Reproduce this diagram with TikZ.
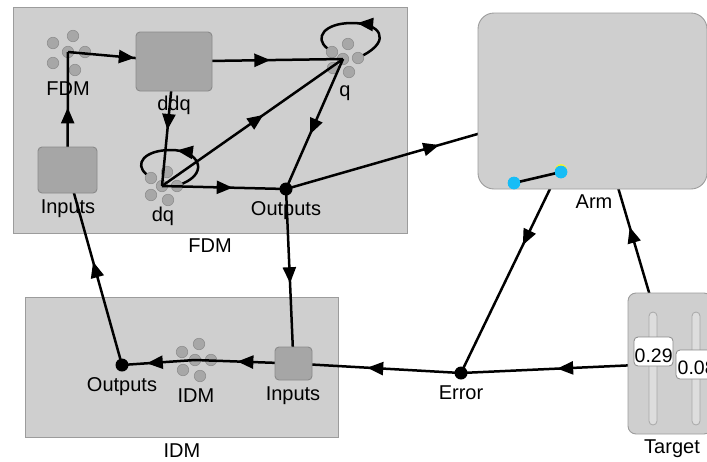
\documentclass[tikz,border=0pt]{standalone}
\usepackage{fontspec}
\setmainfont{Liberation Sans}
\usetikzlibrary{arrows.meta,decorations.markings}
\definecolor{contfill}{HTML}{CFCFCF}
\definecolor{contline}{HTML}{9C9C9C}
\definecolor{boxfill}{HTML}{A6A6A6}
\definecolor{boxline}{HTML}{8A8A8A}
\definecolor{dotfill}{HTML}{A7A7A7}
\definecolor{dotline}{HTML}{8E8E8E}
\definecolor{trackfill}{HTML}{DDDDDD}
\definecolor{trackline}{HTML}{A8A8A8}
\definecolor{armblue}{HTML}{17BDF6}
\definecolor{armyellow}{HTML}{F2F23A}
\pgfdeclarelayer{bg}
\pgfdeclarelayer{dotl}
\pgfdeclarelayer{edges}
\pgfsetlayers{bg,dotl,edges,main}
\tikzset{
  cont/.style={draw=contline,fill=contfill,line width=0.9pt,inner sep=0pt},
  grbox/.style={draw=boxline,fill=boxfill,line width=0.9pt,rounded corners=4pt,inner sep=0pt},
  gdot/.style={circle,draw=dotline,fill=dotfill,line width=0.6pt,minimum size=11.5pt,inner sep=0pt},
  bdot/.style={circle,fill=black,minimum size=13pt,inner sep=0pt},
  lbl/.style={anchor=base,inner sep=0pt,font=\fontsize{20pt}{24pt}\selectfont},
  valbox/.style={draw=boxline,fill=white,line width=0.8pt,rounded corners=4pt,inner sep=0pt,minimum height=29pt},
  valtxt/.style={anchor=base west,inner sep=0pt,font=\fontsize{19.5pt}{22pt}\selectfont},
  track/.style={draw=trackline,fill=trackfill,line width=0.8pt,rounded corners=4pt,minimum width=8pt,minimum height=113pt,inner sep=0pt},
  edge/.style={draw=black,line width=2.5pt},
  arrowat/.style={postaction={decorate,decoration={markings,
     mark=at position #1 with {\arrow{Triangle[length=16pt,width=13pt]}}}}},
}
\begin{document}
\begin{tikzpicture}[x=1pt,y=-1pt]
\useasboundingbox (0,0) rectangle (707,461);
\clip (0,0) rectangle (707,461);
% containers
\begin{pgfonlayer}{bg}
\node[cont,minimum width=394pt,minimum height=226pt] (fdmcont) at (210,120) {};
\node[cont,minimum width=313pt,minimum height=140pt] (idmcont) at (181.5,367) {};
\end{pgfonlayer}
\node[lbl] (fdmcontlbl) at (210,252) {FDM};
\node[lbl] (idmcontlbl) at (182,457) {IDM};
% FDM internals
\node[grbox,minimum width=59pt,minimum height=46pt] (inF) at (67.5,170) {};
\node[lbl] (inFlbl) at (68,213) {Inputs};
\node[grbox,minimum width=76pt,minimum height=59pt] (ddq) at (174,61.5) {};
\node[lbl] (ddqlbl) at (174,110) {ddq};
\node[bdot] (outF) at (286,189) {};
\node[lbl] (outFlbl) at (286,215) {Outputs};
\begin{pgfonlayer}{dotl}
% FDM cluster
\node[gdot] (fdmul) at (53,43) {};
\node[gdot] (fdmt) at (73,36) {};
\node[gdot] (fdmc) at (68,52) {};
\node[gdot] (fdmr) at (85,52) {};
\node[gdot] (fdmll) at (53,63) {};
\node[gdot] (fdmb) at (75,70) {};
% q cluster
\node[gdot] (qul) at (332,52) {};
\node[gdot] (qt) at (348,44) {};
\node[gdot] (qc) at (343,59) {};
\node[gdot] (qr) at (358,58) {};
\node[gdot] (qll) at (333,68) {};
\node[gdot] (qb) at (349,72) {};
% dq cluster
\node[gdot] (dqul) at (151,178) {};
\node[gdot] (dqt) at (167,172) {};
\node[gdot] (dqc) at (162,186) {};
\node[gdot] (dqr) at (177,186) {};
\node[gdot] (dqll) at (151,195) {};
\node[gdot] (dqb) at (168,200) {};
% IDM cluster
\node[gdot] (idmul) at (182,352) {};
\node[gdot] (idmt) at (199,344) {};
\node[gdot] (idmc) at (195,360) {};
\node[gdot] (idmr) at (211,360) {};
\node[gdot] (idmll) at (183,370) {};
\node[gdot] (idmb) at (200,376) {};
\end{pgfonlayer}
\node[lbl] (fdmlbl) at (68,95) {FDM};
\node[lbl] (qlbl) at (345,96) {q};
\node[lbl] (dqlbl) at (163,221) {dq};
% IDM internals
\node[bdot] (outI) at (122,365) {};
\node[lbl] (outIlbl) at (122,391) {Outputs};
\node[lbl] (idmlbl) at (196,402) {IDM};
\node[grbox,minimum width=37pt,minimum height=33pt] (inI) at (293.5,363.5) {};
\node[lbl] (inIlbl) at (293,400) {Inputs};
% Error
\node[bdot] (err) at (461,373) {};
\node[lbl] (errlbl) at (461,399) {Error};
% Arm
\node[draw=contline,fill=contfill,line width=0.9pt,rounded corners=16pt,minimum width=229pt,minimum height=176pt,inner sep=0pt] (arm) at (592.5,101) {};
\node[lbl] (armlbl) at (594,208) {Arm};
\node[circle,fill=armyellow,minimum size=12pt,inner sep=0pt] (army) at (561,170) {};
\node[circle,fill=armblue,minimum size=12.5pt,inner sep=0pt] (armb1) at (514,183) {};
\node[circle,fill=armblue,minimum size=12.5pt,inner sep=0pt] (armb2) at (561,172) {};
\draw[line width=2.6pt] (armb1.center) -- (armb2.center);
\node[circle,fill=armblue,minimum size=12.5pt,inner sep=0pt] (armb1t) at (514,183) {};
\node[circle,fill=armblue,minimum size=12.5pt,inner sep=0pt] (armb2t) at (561,172) {};
% Target
\node[draw=contline,fill=contfill,line width=0.9pt,rounded corners=8pt,minimum width=84pt,minimum height=141pt,inner sep=0pt] (tgt) at (670,363.5) {};
\node[lbl] (tgtlbl) at (672,453) {Target};
\node[track] (trk1) at (653,368.5) {};
\node[track] (trk2) at (696,368.5) {};
\node[valbox,minimum width=39pt] (val1) at (653.5,351.5) {};
\node[valtxt] (val1txt) at (634.5,362) {0.29};
\node[valbox,minimum width=42pt] (val2) at (697,364.5) {};
\node[valtxt] (val2txt) at (677.5,374) {0.08};
% edges
\begin{pgfonlayer}{edges}
\draw[edge,arrowat=0.52] (tgt.center) -- (arm.center);
\draw[edge,arrowat=0.53] (arm.center) -- (err.center);
\draw[edge,arrowat=0.54] (tgt.center) -- (err.center);
\draw[edge,arrowat=0.56] (err.center) -- (inI.center);
\draw[edge,arrowat=0.54] (outF.center) -- (inI.center);
\draw[edge,arrowat=0.50] (outF.center) -- (arm.center);
\draw[edge,arrowat=0.57] (inI.center) -- (idmc.center);
\draw[edge,arrowat=0.66] (idmc.center) -- (outI.center);
\draw[edge,arrowat=0.53] (outI.center) -- (inF.center);
\draw[edge,arrowat=0.53] (inF.center) -- (fdmc.center);
\draw[edge,arrowat=0.63] (fdmc.center) -- (ddq.center);
\draw[edge,arrowat=0.57] (ddq.center) -- (qc.center);
\draw[edge,arrowat=0.55] (ddq.center) -- (dqc.center);
\draw[edge,arrowat=0.56] (dqc.center) -- (qc.center);
\draw[edge,arrowat=0.57] (dqc.center) -- (outF.center);
\draw[edge,arrowat=0.58] (qc.center) -- (outF.center);
\draw[edge,arrowat=0.5] (qr) .. controls (392,40) and (380,23) .. (352,23) .. controls (324,23) and (314,38) .. (qul);
\draw[edge,arrowat=0.5] (dqr) .. controls (210,172) and (198,150) .. (171,150) .. controls (144,150) and (134,164) .. (dqul);
\end{pgfonlayer}
\end{tikzpicture}
\end{document}
